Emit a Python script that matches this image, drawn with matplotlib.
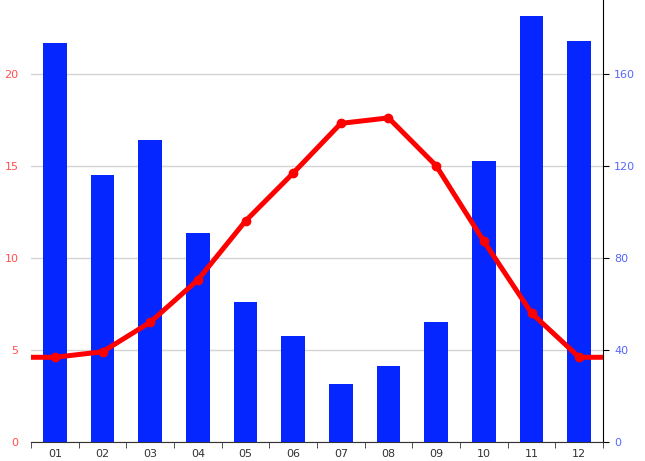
import numpy as np
import matplotlib
matplotlib.use('Agg')
import matplotlib.pyplot as plt

months = ['01', '02', '03', '04', '05', '06', '07', '08', '09', '10', '11', '12']
precip = [173.5, 116, 131, 91, 61, 46, 25, 33, 52, 122, 185, 174]
temp = [4.6, 4.9, 6.5, 8.8, 12.0, 14.6, 17.3, 17.6, 15.0, 10.9, 7.0, 4.6]

x = np.arange(len(months))

fig = plt.figure(figsize=(6.45, 4.61), dpi=100)
ax = fig.add_axes([31/645, 19/461, 572/645, 442/461])
ax2 = ax.twinx()

# precipitation bars (behind), grid belongs to this axis
ax.bar(x, precip, width=0.5, color='#0526ff', zorder=2)
ax.set_ylim(0, 192)
ax.set_xlim(-0.5, 11.5)
ax.set_yticks([0, 40, 80, 120, 160])
ax.yaxis.tick_right()
ax.tick_params(axis='y', colors='black', labelcolor='#5566ff', labelsize=8,
               length=4, direction='out', pad=4)
ax.grid(axis='y', color='#d4d4d4', linewidth=1, zorder=0)
ax.set_axisbelow(True)

ax.set_xticks(x)
ax.set_xticklabels(months)
ax.set_xticks(np.arange(-0.5, 12, 1), minor=True)
ax.tick_params(axis='x', which='major', length=0, labelsize=8, labelcolor='#333333', pad=5)
ax.tick_params(axis='x', which='minor', length=4, color='#333333')

for s in ['left', 'top']:
    ax.spines[s].set_visible(False)
ax.spines['right'].set_color('black')
ax.spines['bottom'].set_color('#333333')

# temperature line (on top)
line_x = np.concatenate(([-0.5], x, [11.5]))
line_y = np.concatenate(([temp[0]], temp, [temp[-1]]))
ax2.plot(line_x, line_y, color='#ff0000', linewidth=3.6, solid_joinstyle='round', zorder=3)
ax2.plot(x, temp, 'o', color='#ff0000', markersize=6, zorder=4)
ax2.set_ylim(0, 24)
ax2.set_yticks([0, 5, 10, 15, 20])
ax2.yaxis.tick_left()
ax2.tick_params(axis='y', length=0, labelcolor='#ff4d4d', labelsize=8, pad=9)
for s in ['left', 'top', 'right', 'bottom']:
    ax2.spines[s].set_visible(False)

fig.savefig('out.png', dpi=100)
